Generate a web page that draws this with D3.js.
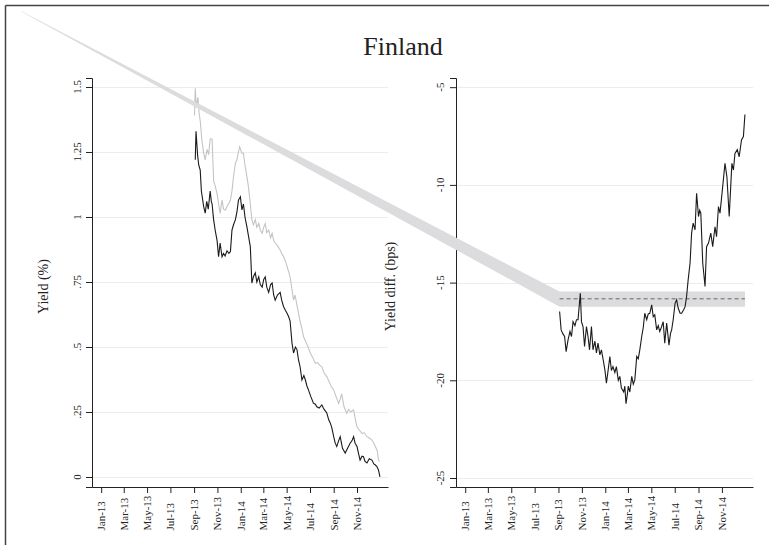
<!DOCTYPE html>
<html><head><meta charset="utf-8">
<script src="https://cdn.jsdelivr.net/npm/d3@7"></script>
<style>body{margin:0;background:#fff} svg{display:block}</style>
</head><body>
<svg id="c" width="769" height="545"></svg>
<script>
const chartTitle = "Finland";
const leftAxisTitle = "Yield (%)";
const rightAxisTitle = "Yield diff. (bps)";
const xTickDates = ["2013-01-01","2013-03-01","2013-05-01","2013-07-01","2013-09-01","2013-11-01",
                    "2014-01-01","2014-03-01","2014-05-01","2014-07-01","2014-09-01","2014-11-01"];
const yieldTicks = [0, 0.25, 0.5, 0.75, 1, 1.25, 1.5];
const yieldTickLabels = ["0", ".25", ".5", ".75", "1", "1.25", "1.5"];
const diffTicks = [-25, -20, -15, -10, -5];
const diffTickLabels = ["-25", "-20", "-15", "-10", "-5"];

// Left panel, black series (yield %)
const blackDates = ["2013-09-04","2013-09-06","2013-09-10","2013-09-13","2013-09-17","2013-09-20","2013-09-26","2013-09-30","2013-10-04","2013-10-08","2013-10-13","2013-10-16","2013-10-18","2013-10-22","2013-10-26","2013-10-31","2013-11-04","2013-11-08","2013-11-13","2013-11-17","2013-11-21","2013-11-26","2013-12-01","2013-12-05","2013-12-09","2013-12-13","2013-12-18","2013-12-22","2013-12-26","2013-12-31","2014-01-04","2014-01-08","2014-01-12","2014-01-17","2014-01-22","2014-01-26","2014-01-30","2014-02-03","2014-02-08","2014-02-12","2014-02-17","2014-02-21","2014-02-26","2014-03-02","2014-03-06","2014-03-10","2014-03-15","2014-03-20","2014-03-24","2014-03-28","2014-04-01","2014-04-07","2014-04-14","2014-04-18","2014-04-23","2014-04-28","2014-05-02","2014-05-06","2014-05-10","2014-05-15","2014-05-19","2014-05-24","2014-05-28","2014-06-01","2014-06-05","2014-06-10","2014-06-15","2014-06-19","2014-06-23","2014-06-27","2014-07-03","2014-07-10","2014-07-15","2014-07-19","2014-07-25","2014-08-01","2014-08-07","2014-08-14","2014-08-19","2014-08-23","2014-08-27","2014-09-01","2014-09-05","2014-09-09","2014-09-14","2014-09-18","2014-09-24","2014-10-01","2014-10-07","2014-10-14","2014-10-19","2014-10-23","2014-10-27","2014-11-01","2014-11-05","2014-11-09","2014-11-14","2014-11-18","2014-11-22","2014-11-27","2014-12-03","2014-12-10","2014-12-15","2014-12-19","2014-12-23","2014-12-27","2014-12-31"];
const blackYield = [1.22,1.33,1.24,1.20,1.18,1.10,1.04,1.015,1.06,1.03,1.10,1.06,1.05,0.99,0.95,0.91,0.847,0.90,0.847,0.86,0.85,0.87,0.86,0.867,0.95,0.97,0.99,1.02,1.065,1.078,1.027,1.05,1.00,0.963,0.92,0.886,0.746,0.77,0.785,0.75,0.77,0.74,0.73,0.76,0.77,0.73,0.71,0.74,0.746,0.70,0.68,0.70,0.71,0.68,0.655,0.64,0.63,0.617,0.60,0.515,0.477,0.50,0.49,0.45,0.425,0.373,0.39,0.373,0.35,0.335,0.31,0.284,0.28,0.27,0.265,0.277,0.26,0.246,0.22,0.208,0.19,0.155,0.13,0.117,0.14,0.155,0.11,0.092,0.11,0.13,0.14,0.155,0.13,0.117,0.09,0.065,0.08,0.078,0.06,0.054,0.07,0.065,0.05,0.046,0.04,0.027,0.0];

// Left panel, gray series (yield %)
const grayDates = ["2013-09-02","2013-09-04","2013-09-07","2013-09-11","2013-09-14","2013-09-17","2013-09-21","2013-09-26","2013-09-30","2013-10-05","2013-10-09","2013-10-13","2013-10-18","2013-10-22","2013-10-26","2013-10-31","2013-11-04","2013-11-08","2013-11-13","2013-11-17","2013-11-22","2013-11-26","2013-11-30","2013-12-05","2013-12-09","2013-12-13","2013-12-18","2013-12-22","2013-12-26","2013-12-29","2014-01-04","2014-01-08","2014-01-12","2014-01-17","2014-01-21","2014-01-26","2014-01-30","2014-02-03","2014-02-08","2014-02-12","2014-02-17","2014-02-21","2014-02-26","2014-03-02","2014-03-06","2014-03-10","2014-03-15","2014-03-20","2014-03-24","2014-03-28","2014-04-01","2014-04-07","2014-04-14","2014-04-18","2014-04-23","2014-04-28","2014-05-02","2014-05-06","2014-05-10","2014-05-15","2014-05-19","2014-05-23","2014-05-28","2014-06-01","2014-06-05","2014-06-10","2014-06-14","2014-06-20","2014-06-26","2014-07-02","2014-07-08","2014-07-15","2014-07-21","2014-07-26","2014-08-01","2014-08-07","2014-08-14","2014-08-19","2014-08-25","2014-09-01","2014-09-07","2014-09-14","2014-09-18","2014-09-22","2014-09-28","2014-10-05","2014-10-10","2014-10-16","2014-10-23","2014-10-28","2014-11-01","2014-11-07","2014-11-14","2014-11-20","2014-11-27","2014-12-03","2014-12-10","2014-12-15","2014-12-19","2014-12-24","2014-12-27","2014-12-31"];
const grayYield = [1.39,1.495,1.42,1.46,1.40,1.37,1.30,1.245,1.22,1.26,1.24,1.30,1.30,1.14,1.12,1.09,1.05,1.014,1.065,1.03,1.027,1.04,1.05,1.065,1.10,1.155,1.206,1.22,1.25,1.27,1.245,1.245,1.20,1.155,1.117,1.05,0.99,0.97,0.99,0.96,0.975,0.95,0.937,0.96,0.975,0.94,0.95,0.92,0.937,0.91,0.90,0.89,0.873,0.86,0.847,0.83,0.81,0.79,0.77,0.72,0.68,0.70,0.66,0.63,0.60,0.57,0.54,0.52,0.50,0.476,0.46,0.437,0.44,0.43,0.424,0.40,0.386,0.37,0.35,0.335,0.31,0.283,0.30,0.32,0.27,0.245,0.26,0.25,0.258,0.22,0.193,0.18,0.168,0.17,0.155,0.15,0.142,0.13,0.117,0.10,0.065,0.06];

// Right panel, yield difference (bps)
const diffDates = ["2013-09-04","2013-09-08","2013-09-12","2013-09-17","2013-09-21","2013-09-26","2013-10-01","2013-10-05","2013-10-09","2013-10-14","2013-10-18","2013-10-22","2013-10-28","2013-10-31","2013-11-04","2013-11-08","2013-11-13","2013-11-17","2013-11-21","2013-11-26","2013-11-30","2013-12-05","2013-12-09","2013-12-13","2013-12-18","2013-12-22","2013-12-27","2013-12-31","2014-01-04","2014-01-09","2014-01-13","2014-01-17","2014-01-21","2014-01-26","2014-01-30","2014-02-04","2014-02-08","2014-02-12","2014-02-18","2014-02-21","2014-02-24","2014-02-27","2014-03-02","2014-03-06","2014-03-11","2014-03-15","2014-03-19","2014-03-24","2014-03-28","2014-04-01","2014-04-06","2014-04-10","2014-04-14","2014-04-19","2014-04-23","2014-04-27","2014-05-02","2014-05-06","2014-05-10","2014-05-15","2014-05-19","2014-05-23","2014-05-27","2014-06-01","2014-06-05","2014-06-10","2014-06-16","2014-06-20","2014-06-23","2014-06-27","2014-07-02","2014-07-06","2014-07-10","2014-07-15","2014-07-19","2014-07-24","2014-07-28","2014-08-01","2014-08-05","2014-08-10","2014-08-14","2014-08-18","2014-08-23","2014-08-27","2014-09-01","2014-09-04","2014-09-07","2014-09-12","2014-09-18","2014-09-22","2014-09-27","2014-10-03","2014-10-08","2014-10-14","2014-10-18","2014-10-23","2014-10-27","2014-11-03","2014-11-09","2014-11-14","2014-11-20","2014-11-27","2014-12-01","2014-12-05","2014-12-11","2014-12-16","2014-12-22","2014-12-27","2014-12-31"];
const diffValues = [-16.48,-17.42,-17.6,-17.76,-18.53,-17.93,-17.5,-17.76,-17.0,-17.2,-16.9,-16.9,-15.54,-17.0,-17.25,-18.27,-17.25,-17.76,-18.44,-17.25,-18.44,-18.0,-18.6,-18.1,-18.7,-18.44,-19.0,-19.47,-20.15,-19.4,-18.78,-19.5,-19.3,-19.6,-19.3,-20.0,-19.8,-20.4,-20.6,-20.3,-21.2,-20.8,-20.3,-20.6,-19.8,-20.2,-19.98,-18.78,-18.9,-18.44,-17.76,-17.3,-16.57,-16.9,-16.6,-16.57,-16.14,-16.74,-16.65,-17.42,-17.2,-17.5,-17.3,-17.0,-18.1,-17.07,-18.2,-17.6,-17.42,-16.9,-16.05,-15.88,-16.3,-16.57,-16.57,-16.4,-16.23,-15.7,-14.86,-14.0,-12.47,-11.96,-12.3,-10.43,-11.62,-11.3,-11.45,-14.0,-15.2,-13.16,-12.98,-12.47,-13.16,-12.14,-12.65,-11.11,-11.45,-10.09,-8.9,-9.58,-11.62,-8.9,-9.24,-8.39,-8.2,-8.56,-7.7,-7.53,-6.4];

// Reference band (mean and range) on the difference
const bandDates = ["2013-09-04", "2014-12-31"];
const bandLow = -16.23, bandHigh = -15.46, bandMean = -15.83;
// Stray band segment anchor (as drawn in the reference), right-panel data coordinates
const strayDates = ["2009-10-29", "2009-11-03"];
const strayValues = [-1.08, -1.15];

const parse = d3.utcParse("%Y-%m-%d");
const fmt = d3.utcFormat("%b-%y");
const svg = d3.select("#c");
const serif = "'Liberation Serif', 'DejaVu Serif', serif";

svg.append("rect").attr("width", 769).attr("height", 545).attr("fill", "#fff");

const xDomain = [parse("2012-12-08"), parse("2015-01-21")];
const xL = d3.scaleUtc().domain(xDomain).range([92, 388]);
const xR = d3.scaleUtc().domain(xDomain).range([456, 753]);
const yL = d3.scaleLinear().domain([-0.0385, 1.5346]).range([487, 78]);
const yR = d3.scaleLinear().domain([-25.46, -4.53]).range([487, 78]);

// frame
svg.append("line").attr("x1", 5.5).attr("x2", 769).attr("y1", 5.5).attr("y2", 5.5).attr("stroke", "#444").attr("stroke-width", 1.5);
svg.append("line").attr("x1", 5.5).attr("x2", 5.5).attr("y1", 5.5).attr("y2", 545).attr("stroke", "#444").attr("stroke-width", 1.5);

svg.append("text").attr("x", 403).attr("y", 55).attr("text-anchor", "middle")
  .attr("font-family", serif).attr("font-size", 26).attr("fill", "#222").text(chartTitle);

function panel(x, y, ticks, tickLabels, minorStep, axisTitle, titleX, labelX) {
  const g = svg.append("g");
  g.selectAll("line.grid").data(ticks).join("line")
    .attr("x1", x.range()[0]).attr("x2", x.range()[1])
    .attr("y1", d => Math.round(y(d)) + 0.5).attr("y2", d => Math.round(y(d)) + 0.5)
    .attr("stroke", "#ececec").attr("stroke-width", 1);
  const minor = d3.range(ticks[0], ticks[ticks.length - 1] + minorStep / 2, minorStep);
  const ya = g.append("g").attr("transform", `translate(${x.range()[0]},0)`);
  ya.call(d3.axisLeft(y).tickValues(minor).tickSize(3).tickFormat(""));
  ya.call(d3.axisLeft(y).tickValues(ticks).tickSize(6).tickFormat(""));
  ya.selectAll("path.domain").attr("stroke", "#222");
  ya.selectAll("line").attr("stroke", "#222");
  g.selectAll("text.ytl").data(ticks).join("text")
    .attr("transform", d => `translate(${labelX},${y(d)}) rotate(-90)`)
    .attr("text-anchor", "middle").attr("dy", "0.35em")
    .attr("font-family", serif).attr("font-size", 11).attr("fill", "#222")
    .text((d, i) => tickLabels[i]);
  const xa = g.append("g").attr("transform", `translate(0,${y.range()[0]})`);
  xa.call(d3.axisBottom(x).tickValues(xTickDates.map(parse)).tickSize(6).tickSizeOuter(0).tickFormat(""));
  xa.selectAll("path.domain").attr("stroke", "#222");
  xa.selectAll("line").attr("stroke", "#222");
  g.selectAll("text.xtl").data(xTickDates).join("text")
    .attr("transform", d => `translate(${x(parse(d))},530.5) rotate(-90)`)
    .attr("text-anchor", "start").attr("dy", "0.35em")
    .attr("font-family", serif).attr("font-size", 11).attr("fill", "#222")
    .text(d => fmt(parse(d)));
  g.append("text").attr("transform", `translate(${titleX},${(y.range()[0] + y.range()[1]) / 2 + 4}) rotate(-90)`)
    .attr("text-anchor", "middle").attr("dy", "0.35em")
    .attr("font-family", serif).attr("font-size", 14).attr("fill", "#222").text(axisTitle);
  return g;
}

panel(xL, yL, yieldTicks, yieldTickLabels, 0.05, leftAxisTitle, 43, 77);
panel(xR, yR, diffTicks, diffTickLabels, 1, rightAxisTitle, 390, 440);

const lineL = d3.line().x(d => xL(d[0])).y(d => yL(d[1]));
const lineR = d3.line().x(d => xR(d[0])).y(d => yR(d[1]));

svg.append("path").datum(grayDates.map((d, i) => [parse(d), grayYield[i]]))
  .attr("d", lineL).attr("fill", "none").attr("stroke", "#c4c4c4").attr("stroke-width", 1.1);
svg.append("path").datum(blackDates.map((d, i) => [parse(d), blackYield[i]]))
  .attr("d", lineL).attr("fill", "none").attr("stroke", "#1a1a1a").attr("stroke-width", 1.1);

const b0 = parse(bandDates[0]), b1 = parse(bandDates[1]);
const bandPoly = [
  [xR(parse(strayDates[0])), yR(strayValues[0])],
  [xR(b0), yR(bandHigh)], [xR(b1), yR(bandHigh)],
  [xR(b1), yR(bandLow)], [xR(b0), yR(bandLow)],
  [xR(parse(strayDates[1])), yR(strayValues[1])]
];
svg.append("path").attr("d", d3.line()(bandPoly) + "Z").attr("fill", "#dcdcde").attr("stroke", "none");
svg.append("line").attr("x1", xR(b0)).attr("x2", xR(b1)).attr("y1", yR(bandMean)).attr("y2", yR(bandMean))
  .attr("stroke", "#666").attr("stroke-width", 1).attr("stroke-dasharray", "4,3");

svg.append("path").datum(diffDates.map((d, i) => [parse(d), diffValues[i]]))
  .attr("d", lineR).attr("fill", "none").attr("stroke", "#1a1a1a").attr("stroke-width", 1.1);
</script>
</body></html>
